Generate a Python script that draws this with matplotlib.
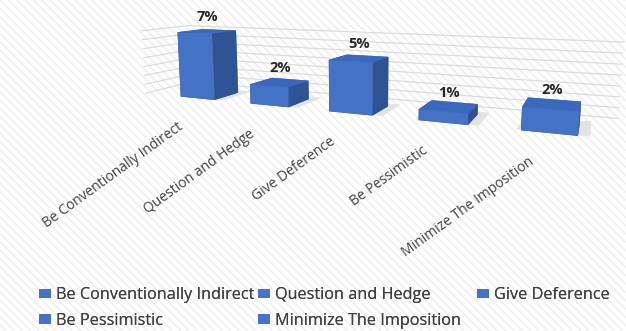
import matplotlib
matplotlib.use("Agg")
import matplotlib.pyplot as plt
import numpy as np
from matplotlib.patches import Rectangle, Patch
from mpl_toolkits.mplot3d import Axes3D, proj3d  # noqa

categories = ["Be Conventionally Indirect", "Question and Hedge", "Give Deference",
              "Be Pessimistic", "Minimize The Imposition"]
values = [7, 2, 5, 1, 2]
value_labels = ["7%", "2%", "5%", "1%", "2%"]
grid_levels = [0, 1, 2, 3, 4, 5, 6, 7]

FRONT = "#4472C4"
SIDE = "#2F5496"
TOP = "#3B68BC"
FONT = ["Open Sans", "DejaVu Sans"]

fig = plt.figure(figsize=(6.26, 3.31), dpi=100)
bg = Rectangle((0, 0), 1, 1, transform=fig.transFigure, facecolor="white",
               edgecolor="#ededed", hatch="\\\\\\\\", linewidth=0, zorder=-10)
fig.patches.append(bg)

ax = fig.add_axes([0.065, 0.325, 1.0, 0.9], projection="3d", proj_type="persp", focal_length=0.35)
ax.set_facecolor("none")
ax.set_axis_off()
ax.computed_zorder = False
ax.view_init(elev=9, azim=-67)
ax.set_box_aspect((10.0, 1.6, 1.45), zoom=1.6)

n = len(categories)
xs = np.arange(n)
w, d = 0.5, 0.55

# soft floor shadow under each bar
shadow = ax.bar3d(xs - w / 2 - 0.04, np.full(n, 0.03), np.zeros(n), w + 0.14, d + 0.12,
                  np.full(n, 0.001), color="#e2e2e2", shade=False, alpha=0.8)
shadow.set_clip_on(False)
shadow.set_zorder(0.5)

face_colors = np.tile(["#2a4a8a", TOP, FRONT, FRONT, SIDE, SIDE], n)
bars = ax.bar3d(xs - w / 2, np.zeros(n), np.zeros(n), w, d, values,
                color=list(face_colors), shade=False, zsort="average")
bars.set_clip_on(False)
bars.set_zorder(2)

x0, x1, yb = -0.8, 4.6, 1.0
for g in grid_levels:
    ln, = ax.plot([x0, x0, x1], [0, yb, yb], [g, g, g], color="#d9d9d9", lw=0.8, zorder=0)
    ln.set_clip_on(False)

ax.set_xlim(x0, x1)
ax.set_ylim(0, 1.0)
ax.set_zlim(0, 7)

fig.canvas.draw()
M = ax.get_proj()
for x, v, lab in zip(xs, values, value_labels):
    px, py, _ = proj3d.proj_transform(x, d / 2, v, M)
    ax.annotate(lab, (px, py), xycoords="data", xytext=(0, 5), textcoords="offset points",
                ha="center", va="bottom", fontsize=10.5, fontweight="bold", family=FONT,
                color="#262626", annotation_clip=False, zorder=5)

for x, c in zip(xs, categories):
    px, py, _ = proj3d.proj_transform(x, 0, 0, M)
    ax.annotate(c, (px, py), xycoords="data", xytext=(-15, -15), textcoords="offset points",
                ha="right", va="top", rotation=36, rotation_mode="anchor",
                fontsize=10, family=FONT, color="#404040", annotation_clip=False, zorder=5)

handles = [Patch(facecolor=FRONT, edgecolor="none") for _ in categories]
legend_cols = [([0, 3], 0.062), ([1, 4], 0.412), ([2], 0.762)]
for idx, xpos in legend_cols:
    leg = fig.legend([handles[i] for i in idx], [categories[i] for i in idx], ncol=1,
                     loc="upper left", bbox_to_anchor=(xpos, 0.132), frameon=False,
                     prop={"family": FONT, "size": 11.7}, handlelength=0.75, handleheight=0.55,
                     handletextpad=0.3, labelcolor="#404040", labelspacing=0.6,
                     borderpad=0.0, borderaxespad=0.0)
    fig.add_artist(leg)

fig.savefig("out.png", dpi=100)
